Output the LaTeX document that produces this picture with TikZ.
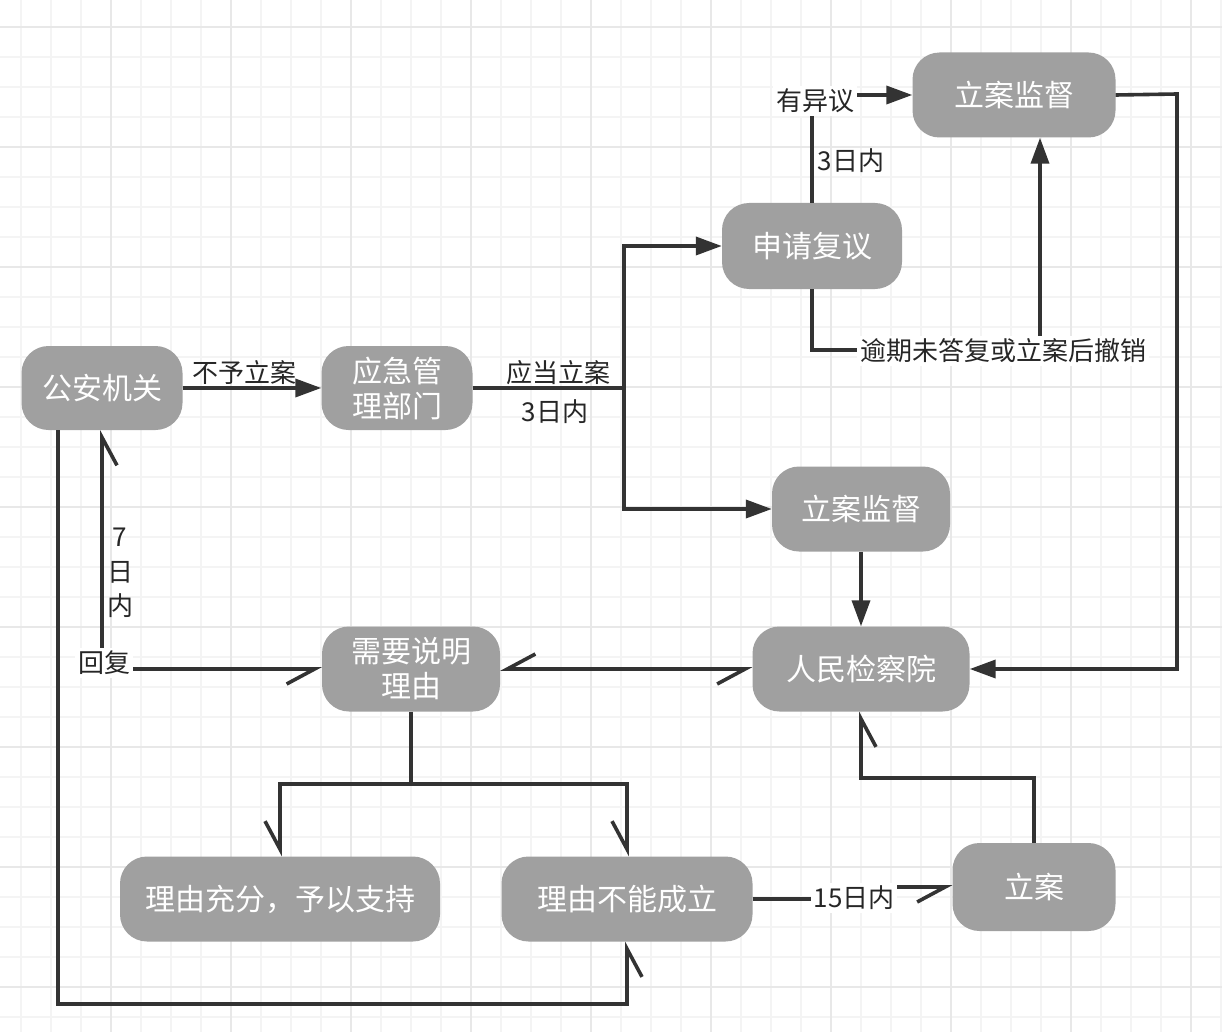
\documentclass[tikz,border=0pt]{standalone}
\usepackage{fontspec}
\setmainfont{Noto Sans CJK SC}
\usetikzlibrary{arrows.meta,calc}
\definecolor{nodegray}{HTML}{A0A0A0}
\definecolor{edgec}{HTML}{333333}
\definecolor{textc}{HTML}{262626}
\definecolor{gridminor}{HTML}{F4F4F4}
\definecolor{gridmajor}{HTML}{E8E8E8}
\begin{document}
\begin{tikzpicture}[x=1pt,y=-1pt,
  box/.style={rectangle, rounded corners=27pt, fill=nodegray, text=white, inner sep=0pt, align=center, font=\fontsize{30}{35}\selectfont},
  edge/.style={draw=edgec, line width=3.6pt},
  blk/.style={edge, -{Triangle[length=26pt,width=18pt]}},
  half/.style={edge, -{Straight Barb[harpoon,swap,length=28pt,width=30pt]}},
  halfb/.style={edge, {Straight Barb[harpoon,swap,length=28pt,width=30pt]}-{Straight Barb[harpoon,swap,length=28pt,width=30pt]}},
  lbl/.style={font=\fontsize{26}{30}\selectfont, text=textc, inner sep=2pt},
  lblw/.style={lbl, fill=white, inner sep=3pt}
]
% background and grid
\useasboundingbox (0,0) rectangle (1222,1032);
\fill[white] (0,0) rectangle (1222,1032);
\foreach \x in {21,51,...,1221} \draw[gridminor, line width=1.5pt] (\x,0) -- (\x,1032);
\foreach \y in {27,57,...,1017} \draw[gridminor, line width=1.5pt] (0,\y) -- (1222,\y);
\foreach \x in {111,231,...,1191} \draw[gridmajor, line width=1.5pt] (\x,0) -- (\x,1032);
\foreach \y in {27,147,...,987} \draw[gridmajor, line width=1.5pt] (0,\y) -- (1222,\y);

% nodes
\node[box, minimum width=161pt, minimum height=84pt] (ga) at (102,388) {公安机关};
\node[box, minimum width=151pt, minimum height=84pt] (yj) at (397,388) {应急管\\理部门};
\node[box, minimum width=180pt, minimum height=86pt] (sq) at (812,246) {申请复议};
\node[box, minimum width=203pt, minimum height=85pt] (la1) at (1014,95) {立案监督};
\node[box, minimum width=178pt, minimum height=85pt] (la2) at (861,509) {立案监督};
\node[box, minimum width=217pt, minimum height=85pt] (jc) at (861,669) {人民检察院};
\node[box, minimum width=178pt, minimum height=85pt] (xy) at (411,669) {需要说明\\理由};
\node[box, minimum width=320pt, minimum height=85pt] (cf) at (280,899) {理由充分，予以支持};
\node[box, minimum width=251pt, minimum height=85pt] (bn) at (627,899) {理由不能成立};
\node[box, minimum width=163pt, minimum height=88pt] (la) at (1034,887) {立案};

% helper coordinates
\coordinate (j1) at (624,388);
\coordinate (c4) at (1040,350);
\coordinate (c5) at (1177,94);
\coordinate (c9) at (411,784);
\coordinate (c10) at (58,1004);
\coordinate (c11a) at (885,899);
\coordinate (c11b) at (885,887);
\coordinate (c12) at (861,778);

% connectors
\draw[blk] (ga.east) -- (yj.west);
\draw[blk] (yj.east) -- (j1) |- (sq.west);
\draw[blk] (j1) |- (la2.west);
\draw[blk] (sq.north) |- (la1.west);
\draw[blk] (sq.south) |- (c4) -- (la1.south -| c4);
\draw[blk] (la1.east) -- (c5) |- (jc.east);
\draw[blk] (la2.south) -- (jc.north);
\draw[halfb] (jc.west) -- (xy.east);
\draw[halfb] (xy.west) -| (ga.south);
\draw[half] (xy.south) -- (c9) -| (cf.north);
\draw[half] (c9) -| (bn.north);
\draw[half] (ga.south -| c10) -- (c10) -| (bn.south);
\draw[half] (bn.east) -- (c11a) -- (c11b) -- (la.west);
\draw[half] (la.north) |- (c12) -- (jc.south);

% labels
\node[lbl] (t1) at (244,373) {不予立案};
\node[lbl] (t2) at (558,373) {应当立案};
\node[lbl] (t3) at (555,412) {3日内};
\node[lblw] (t4) at (815,101) {有异议};
\node[lbl] (t5) at (851,161) {3日内};
\node[lblw] (t6) at (1003,351) {逾期未答复或立案后撤销};
\node[lblw] (t7) at (104,663) {回复};
\node[lbl, align=center, font=\fontsize{26}{34.5}\selectfont] (t8) at (120,573) {7\\日\\内};
\node[lblw] (t9) at (854,898) {15日内};
\end{tikzpicture}
\end{document}
